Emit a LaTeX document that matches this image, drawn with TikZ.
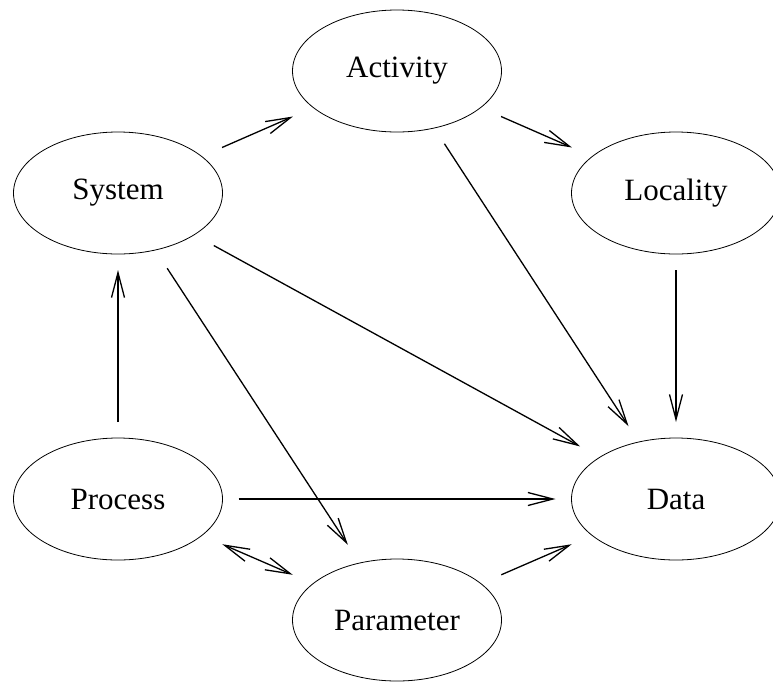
\documentclass[tikz,border=0pt]{standalone}
\usepackage{fontspec}
\setmainfont{Liberation Serif}
\usetikzlibrary{shapes.geometric,arrows.meta}

\tikzset{entity/.style={draw,ellipse,line width=0.8pt,minimum width=209pt,minimum height=122pt,inner sep=0pt,outer sep=16pt,font=\fontsize{31}{36}\selectfont},
	gap/.style={shorten >=#1,shorten <=#1},gap/.default=5pt}

\begin{document}
\begin{tikzpicture}[x=1pt,y=-1pt]
\useasboundingbox (0,0) rectangle (773,681);
\foreach \name/\txt/\x/\y in {act/Activity/397/71, sys/System/118/193, loc/Locality/676/193, proc/Process/118/499, data/Data/676/499, par/Parameter/397/620}
	\node[entity] (\name) at (\x,\y) {\txt};

\path [->,>={Straight Barb[length=25pt,width=13pt]},line width=1.3pt]
	(sys) edge [gap] (act)
	(act) edge [gap] (loc)
	(act) edge [gap=2pt] (data)
	(loc) edge (data)
	(sys) edge [gap] (data)
	(sys) edge [gap] (par)
	(proc) edge (sys)
	(proc) edge (data)
	(proc) edge [<->,gap] (par)
	(par) edge [gap] (data);
\end{tikzpicture}
\end{document}
